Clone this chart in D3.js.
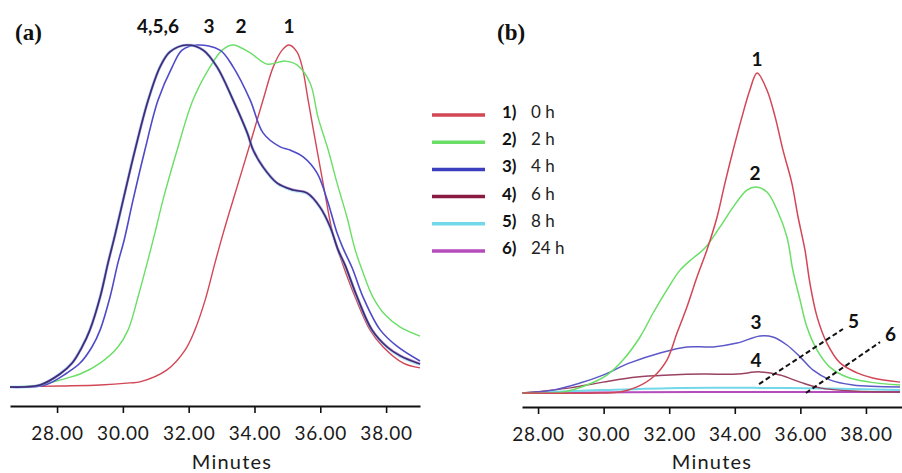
<!DOCTYPE html>
<html><head><meta charset="utf-8">
<script src="https://cdn.jsdelivr.net/npm/d3@7/dist/d3.min.js"></script>
<style>
html,body{margin:0;padding:0;background:#fff;}
svg{display:block;}
</style></head>
<body>
<svg id="chart" width="902" height="473"></svg>
<script>
// ---------- data (minutes, relative response) ----------
const tickValues = [28, 30, 32, 34, 36, 38];
const legendKeys = ["1)", "2)", "3)", "4)", "5)", "6)"];
const legendTimes = ["0 h", "2 h", "4 h", "6 h", "8 h", "24 h"];
const seriesColors = ["#d24656", "#6ade66", "#3d3dbf", "#8a1a42", "#72d8ea", "#b44cbc"];

// panel (a)
const a1 = [[26.57,0.0],[28.09,0.003],[29.31,0.006],[30.22,0.012],[30.52,0.015],[31.34,0.05],[31.89,0.108],[32.19,0.167],[32.5,0.254],[32.8,0.363],[33.05,0.45],[33.35,0.547],[33.81,0.693],[34.26,0.839],[34.57,0.936],[34.84,0.985],[35.05,1.0],[35.29,0.98],[35.45,0.936],[35.63,0.839],[35.9,0.693],[36.15,0.561],[36.39,0.444],[36.69,0.357],[37.06,0.263],[37.51,0.167],[37.91,0.117],[38.52,0.07],[39.03,0.056]];
const a2 = [[26.57,0.0],[27.48,0.006],[28.3,0.026],[28.7,0.038],[29.31,0.07],[29.85,0.117],[30.16,0.167],[30.46,0.263],[30.74,0.363],[30.98,0.453],[31.22,0.547],[31.65,0.693],[32.13,0.839],[32.65,0.936],[33.02,0.985],[33.35,1.0],[33.87,0.977],[34.38,0.944],[34.93,0.953],[35.29,0.942],[35.69,0.889],[35.93,0.789],[36.24,0.693],[36.51,0.596],[36.81,0.497],[37.06,0.401],[37.27,0.342],[37.6,0.263],[37.97,0.211],[38.43,0.175],[39.03,0.149]];
const a3 = [[26.57,0.0],[27.64,0.006],[28.3,0.041],[28.7,0.07],[29.06,0.117],[29.31,0.167],[29.61,0.263],[29.85,0.363],[30.04,0.43],[30.31,0.547],[30.67,0.693],[31.07,0.839],[31.5,0.936],[31.8,0.985],[32.26,1.0],[32.95,0.985],[33.35,0.936],[33.87,0.839],[34.26,0.743],[34.78,0.702],[35.08,0.693],[35.48,0.673],[35.9,0.626],[36.21,0.547],[36.51,0.45],[36.69,0.406],[36.97,0.348],[37.3,0.263],[37.82,0.167],[38.36,0.117],[39.03,0.076]];
const a4 = [[26.57,0.0],[27.48,0.006],[28.09,0.038],[28.46,0.07],[28.76,0.117],[29.0,0.167],[29.31,0.263],[29.55,0.363],[29.76,0.444],[30.01,0.547],[30.37,0.693],[30.77,0.839],[31.13,0.936],[31.43,0.98],[31.95,1.0],[32.44,0.985],[32.86,0.936],[33.35,0.839],[33.78,0.743],[33.96,0.693],[34.26,0.643],[34.69,0.596],[35.17,0.576],[35.6,0.567],[35.99,0.526],[36.3,0.468],[36.54,0.401],[36.75,0.357],[37.12,0.263],[37.57,0.167],[38.03,0.117],[38.43,0.091],[39.03,0.067]];
const a5 = [[26.57,0.0],[27.48,0.006],[28.09,0.039],[28.46,0.071],[28.76,0.118],[29.0,0.168],[29.31,0.264],[29.55,0.364],[29.76,0.445],[30.01,0.548],[30.37,0.694],[30.77,0.84],[31.13,0.936],[31.43,0.98],[31.95,1.0],[32.44,0.985],[32.86,0.936],[33.35,0.839],[33.78,0.743],[33.96,0.693],[34.26,0.643],[34.69,0.595],[35.17,0.575],[35.6,0.566],[35.99,0.525],[36.3,0.467],[36.54,0.4],[36.75,0.356],[37.12,0.262],[37.57,0.166],[38.03,0.116],[38.43,0.09],[39.03,0.066]];
const a6 = [[26.57,0.0],[27.48,0.006],[28.09,0.038],[28.46,0.07],[28.76,0.117],[29.0,0.167],[29.31,0.263],[29.55,0.363],[29.76,0.444],[30.01,0.547],[30.37,0.693],[30.77,0.839],[31.13,0.936],[31.43,0.98],[31.95,1.0],[32.44,0.985],[32.86,0.936],[33.35,0.839],[33.78,0.743],[33.96,0.693],[34.26,0.644],[34.69,0.597],[35.17,0.577],[35.6,0.568],[35.99,0.527],[36.3,0.469],[36.54,0.402],[36.75,0.358],[37.12,0.264],[37.57,0.168],[38.03,0.118],[38.43,0.092],[39.03,0.068]];

// panel (b)
const b1 = [[27.51,0],[29.89,0],[30.5,0.003],[31.02,0.019],[31.51,0.05],[31.93,0.103],[32.24,0.188],[32.54,0.269],[32.85,0.363],[33.15,0.447],[33.46,0.55],[33.7,0.656],[33.95,0.759],[34.22,0.863],[34.46,0.947],[34.68,1.0],[34.98,0.947],[35.23,0.863],[35.47,0.759],[35.74,0.656],[35.93,0.55],[36.14,0.447],[36.29,0.344],[36.51,0.238],[36.81,0.156],[37.21,0.094],[37.73,0.063],[38.21,0.047],[39.04,0.034]];
const b2 = [[27.51,0],[28.76,0.003],[29.49,0.025],[30.1,0.056],[30.59,0.103],[31.11,0.175],[31.51,0.25],[31.93,0.322],[32.33,0.384],[32.73,0.422],[33.09,0.453],[33.55,0.519],[33.95,0.581],[34.37,0.634],[34.65,0.644],[34.98,0.628],[35.29,0.572],[35.59,0.488],[35.77,0.384],[35.99,0.291],[36.2,0.206],[36.51,0.134],[36.9,0.081],[37.42,0.05],[38.12,0.034],[39.04,0.025]];
const b3 = [[27.54,0],[28.46,0.009],[29.28,0.031],[29.98,0.056],[30.8,0.094],[31.72,0.125],[32.54,0.144],[33.34,0.144],[34.07,0.156],[34.77,0.178],[35.16,0.175],[35.59,0.15],[35.99,0.113],[36.38,0.072],[36.9,0.041],[37.6,0.025],[39.04,0.019]];
const b4 = [[27.54,0],[28.98,0.016],[29.98,0.034],[31.02,0.05],[32.02,0.056],[33.03,0.059],[34.07,0.059],[34.77,0.066],[35.38,0.056],[35.99,0.034],[36.6,0.016],[37.6,0.006],[39.04,0.003]];
const b5 = [[27.54,0],[29.9,0.009],[32.35,0.016],[34.8,0.016],[37.25,0.013],[39.04,0.009]];
const b6 = [[27.54,0],[32.9,0.003],[39.04,0.003]];

// annotations
const aPeakLabels = [["4,5,6", 31.07], ["3", 32.62], ["2", 33.59], ["1", 35.05]];
const bPeakLabels = [["1", 34.68, 1.0], ["2", 34.62, 0.644], ["3", 34.65, 0.178], ["4", 34.65, 0.06]];
const bLeaders = [["5", 34.74, 0.028, 37.3, 0.2], ["6", 36.17, 0.0, 38.43, 0.159]];

// ---------- drawing ----------
const SANS = "Lato, 'Open Sans', sans-serif";
const SERIF = "'Liberation Serif', 'DejaVu Serif', serif";
const svg = d3.select("#chart");

function panel(xDom, xRange, yRange, axisY, titleX) {
  const x = d3.scaleLinear().domain(xDom).range(xRange);
  const y = d3.scaleLinear().domain([0, 1]).range(yRange);
  const ax = svg.append("g").attr("transform", `translate(0,${axisY})`)
    .call(d3.axisBottom(x).tickValues(tickValues).tickFormat(d3.format(".2f")).tickSize(7).tickSizeOuter(0).tickPadding(14));
  ax.select(".domain").attr("stroke", "#111").attr("stroke-width", 2.2);
  ax.selectAll(".tick line").attr("stroke", "#111").attr("stroke-width", 1.6);
  ax.selectAll(".tick text").style("font-size", "19px").style("font-family", SANS)
    .style("letter-spacing", "0.8px").attr("fill", "#1a1a1a");
  svg.append("text").attr("x", titleX).attr("y", 469)
    .attr("text-anchor", "middle").style("font-size", "20px").style("font-family", SANS)
    .style("letter-spacing", "1.2px").attr("fill", "#1a1a1a").text("Minutes");
  return {x, y};
}

// Panel (a)
const A = panel([26.57, 39.03], [10, 420], [387, 45], 406, 232);
const lineA = d3.line().x(d => A.x(d[0])).y(d => A.y(d[1])).curve(d3.curveCatmullRom.alpha(0.5));
const gA = svg.append("g");
gA.append("path").datum(a1).attr("d", lineA).attr("fill", "none").attr("stroke", seriesColors[0]).attr("stroke-width", 1.4);
gA.append("path").datum(a2).attr("d", lineA).attr("fill", "none").attr("stroke", seriesColors[1]).attr("stroke-width", 1.4);
gA.append("path").datum(a3).attr("d", lineA).attr("fill", "none").attr("stroke", "#4e4ac8").attr("stroke-width", 1.6);
gA.append("path").datum(a5).attr("d", lineA).attr("fill", "none").attr("stroke", seriesColors[4]).attr("stroke-width", 3.2).attr("opacity", 0.5);
gA.append("path").datum(a6).attr("d", lineA).attr("fill", "none").attr("stroke", seriesColors[5]).attr("stroke-width", 2.2).attr("opacity", 0.55);
gA.append("path").datum(a4).attr("d", lineA).attr("fill", "none").attr("stroke", "#3c2c78").attr("stroke-width", 1.6);

svg.append("text").attr("x", 15).attr("y", 40).style("font-family", SERIF)
  .style("font-weight", "bold").style("font-size", "23px").attr("fill", "#111").text("(a)");
svg.selectAll(".apk").data(aPeakLabels).enter().append("text")
  .attr("x", d => A.x(d[1])).attr("y", 33).attr("text-anchor", "middle")
  .style("font-family", SANS).style("font-weight", "bold").style("font-size", "19px").attr("fill", "#111").text(d => d[0]);

// Panel (b)
const B = panel([27.51, 39.10], [522, 902], [393, 73], 407, 712);
const lineB = d3.line().x(d => B.x(d[0])).y(d => B.y(d[1])).curve(d3.curveCatmullRom.alpha(0.5));
const bSeries = [b6, b5, b4, b3, b2, b1];
const bColors = [seriesColors[5], seriesColors[4], "#9a4262", "#5c58c8", seriesColors[1], seriesColors[0]];
svg.append("g").selectAll("path").data(bSeries).enter().append("path")
  .attr("d", lineB).attr("fill", "none").attr("stroke", (d, i) => bColors[i])
  .attr("stroke-width", (d, i) => i < 2 ? 2 : 1.5);

svg.append("text").attr("x", 497).attr("y", 40).style("font-family", SERIF)
  .style("font-weight", "bold").style("font-size", "23px").attr("fill", "#111").text("(b)");
svg.selectAll(".bpk").data(bPeakLabels).enter().append("text")
  .attr("x", d => B.x(d[1])).attr("y", d => B.y(d[2]) - 7).attr("text-anchor", "middle")
  .style("font-family", SANS).style("font-weight", "bold").style("font-size", "19px").attr("fill", "#111").text(d => d[0]);
bLeaders.forEach(d => {
  svg.append("line").attr("x1", B.x(d[1])).attr("y1", B.y(d[2])).attr("x2", B.x(d[3])).attr("y2", B.y(d[4]))
    .attr("stroke", "#111").attr("stroke-width", 2).attr("stroke-dasharray", "5,3");
  svg.append("text").attr("x", B.x(d[3]) + 5).attr("y", B.y(d[4]) - 1)
    .style("font-family", SANS).style("font-weight", "bold").style("font-size", "19px").attr("fill", "#111").text(d[0]);
});

// Legend
const leg = svg.append("g");
legendKeys.forEach((k, i) => {
  const yy = 115 + i * 27.2;
  leg.append("line").attr("x1", 432).attr("x2", 485).attr("y1", yy).attr("y2", yy)
    .attr("stroke", seriesColors[i]).attr("stroke-width", 3.5);
  leg.append("text").attr("x", 502).attr("y", yy + 3).style("font-family", SANS).style("font-weight", "bold")
    .style("font-size", "17px").attr("fill", "#111").text(k);
  leg.append("text").attr("x", 531).attr("y", yy + 3).style("font-family", SANS).style("font-size", "17px")
    .attr("fill", "#222").text(legendTimes[i]);
});
</script>
</body></html>
